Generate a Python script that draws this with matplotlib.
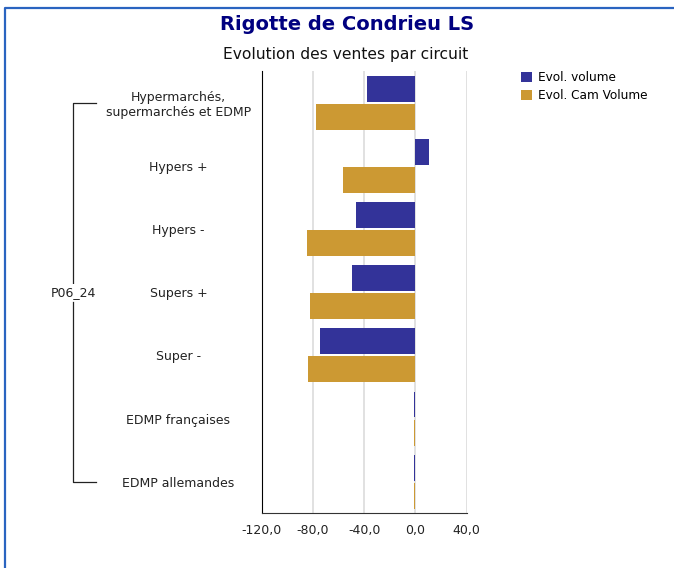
import numpy as np
import matplotlib.pyplot as plt
from matplotlib.lines import Line2D
from matplotlib.patches import Patch
import matplotlib.transforms as mtransforms

categories = ["Hypermarchés,\nsupermarchés et EDMP", "Hypers +", "Hypers -",
              "Supers +", "Super -", "EDMP françaises", "EDMP allemandes"]
evol_volume = [-37.7, 10.4, -46.2, -49.4, -74.3, -0.8, -0.8]
evol_cam_volume = [-77.4, -56.4, -84.4, -82.1, -83.7, -0.8, -0.8]
group_label = "P06_24"
xticks = [-120, -80, -40, 0, 40]
xtick_labels = ["-120,0", "-80,0", "-40,0", "0,0", "40,0"]

BLUE = "#333399"
GOLD = "#cc9933"

plt.rcParams["font.family"] = ["DejaVu Sans"]

fig = plt.figure(figsize=(6.74, 5.68), dpi=100)
ax = fig.add_axes([0.3883, 0.0963, 0.3041, 0.7787])

y = np.arange(len(categories))
h = 0.41
off = 0.222
ax.barh(y - off, evol_volume, height=h, color=BLUE, label="Evol. volume", zorder=3)
ax.barh(y + off, evol_cam_volume, height=h, color=GOLD, label="Evol. Cam Volume", zorder=3)

ax.set_xlim(-120, 40)
ax.set_ylim(len(categories) - 0.5, -0.5)
ax.set_xticks(xticks)
ax.set_xticklabels(xtick_labels, fontsize=9, color="#222222")
ax.set_yticks(y)
ax.set_yticklabels(categories, fontsize=9, ha="center", color="#222222")
ax.tick_params(axis="y", length=0, pad=60)
ax.tick_params(axis="x", length=0, pad=7.5)
ax.grid(axis="x", color="#dcdcdc", linewidth=1.2, zorder=0)
ax.spines["top"].set_visible(False)
ax.spines["right"].set_visible(False)
ax.spines["left"].set_color("black")
ax.spines["bottom"].set_color("#333333")

# group bracket on the left
trans = mtransforms.blended_transform_factory(fig.transFigure, ax.transData)
bx = 73 / 674
bx2 = 96 / 674
fig.add_artist(Line2D([bx2, bx, bx], [0, 0, 2.85], transform=trans, color="#222222", lw=0.9))
fig.add_artist(Line2D([bx, bx, bx2], [3.15, 6, 6], transform=trans, color="#222222", lw=0.9))
fig.text(bx, 3.0, group_label, transform=trans, ha="center", va="center",
         fontsize=9, color="#222222",
         bbox=dict(facecolor="white", edgecolor="none", pad=1))

# titles
fig.text(347 / 674, 1 - 24 / 568, "Rigotte de Condrieu LS", ha="center", va="center",
         fontsize=14, fontweight="bold", color="#000080")
fig.text(346 / 674, 1 - 55 / 568, "Evolution des ventes par circuit", ha="center",
         va="center", fontsize=11.2, color="#111111")

# legend
handles = [Patch(facecolor=BLUE), Patch(facecolor=GOLD)]
fig.legend(handles, ["Evol. volume", "Evol. Cam Volume"], loc="upper left",
           bbox_to_anchor=(510 / 674, 1 - 60 / 568), frameon=False, fontsize=8.7,
           handlelength=0.9, handleheight=0.9, handletextpad=0.5, labelspacing=0.45)

# frame
fig.add_artist(Line2D([5 / 674, 5 / 674, 1], [0, 1 - 8 / 568, 1 - 8 / 568],
                      transform=fig.transFigure, color="#2a64c0", lw=1.6))

fig.savefig("out.png", dpi=100)
